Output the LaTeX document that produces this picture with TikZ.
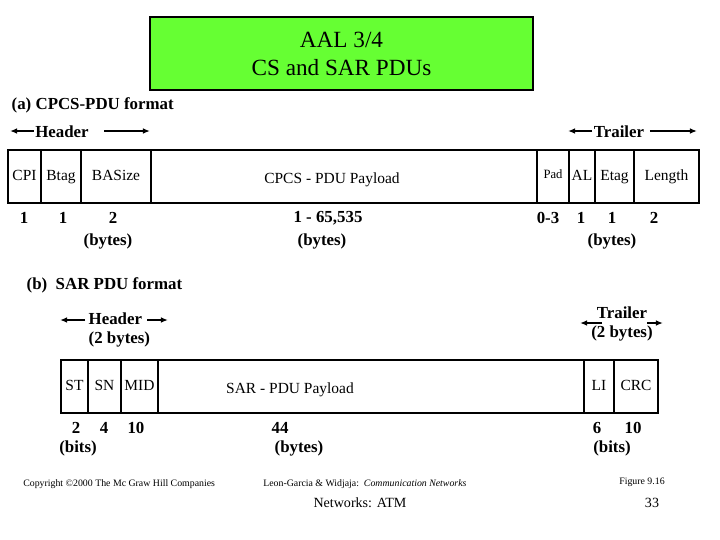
\documentclass[tikz,border=0pt]{standalone}
\usepackage{fontspec}
\setmainfont{Liberation Serif}
\usetikzlibrary{arrows.meta}
\definecolor{titlegreen}{RGB}{102,255,51}
\begin{document}
\begin{tikzpicture}[
    field/.style={
        draw, line width=2pt, outer sep=0pt, inner sep=0pt,
        minimum height=1.325cm, text height=7.5pt, text depth=2pt,
        font=\fontsize{11}{13}\selectfont
    },
    payload/.style={font=\fontsize{11}{13}\selectfont},
    lbl/.style={font=\fontsize{12}{14}\selectfont\bfseries, inner sep=1pt},
    harrow/.style={-{Latex[length=5pt,width=4pt]}, line width=1pt},
    foot/.style={font=\fontsize{7}{8}\selectfont, inner sep=0pt}
]
\useasboundingbox (0,0) rectangle (18,-13.5);

\node[draw, fill=titlegreen, line width=0.8pt, minimum width=9.575cm, minimum height=1.825cm,
      align=center, font=\fontsize{16.5}{20}\selectfont] (title) at (8.5375,-1.3375) {AAL 3/4\\CS and SAR PDUs};

% (a) CPCS-PDU format
\node[lbl, anchor=west] (capa) at (0.25,-2.625) {(a) CPCS-PDU format};

\node[lbl] (hdra) at (1.55,-3.3) {Header};
\coordinate (hdraL) at (0.25,-3.275);
\coordinate (hdraR) at (3.75,-3.275);
\draw[harrow] (hdra.west |- hdraL) -- (hdraL);
\draw[harrow] ([xshift=0.35cm]hdra.east |- hdraR) -- (hdraR);

\node[lbl] (trla) at (15.475,-3.3) {Trailer};
\coordinate (trlaL) at (14.2,-3.275);
\coordinate (trlaR) at (17.425,-3.275);
\draw[harrow] (trla.west |- trlaL) -- (trlaL);
\draw[harrow] ([xshift=0.1cm]trla.east |- trlaR) -- (trlaR);

\node[field, minimum width=0.825cm] (cpi)    at (0.6125,-4.4125)  {CPI};
\node[field, minimum width=1cm]     (btag)   at (1.525,-4.4125)   {Btag};
\node[field, minimum width=1.75cm]  (basize) at (2.9,-4.4125)     {BASize};
\node[field, minimum width=9.65cm,
      label={[payload, xshift=-0.3cm, yshift=-0.08cm]center:CPCS - PDU Payload}] (cpay) at (8.6,-4.4125) {};
\node[field, minimum width=0.8cm, font=\fontsize{9}{11}\selectfont, text depth=4pt] (pad) at (13.825,-4.4125) {Pad};
\node[field, minimum width=0.65cm]  (al)     at (14.55,-4.4125)   {AL};
\node[field, minimum width=0.975cm] (etag)   at (15.3625,-4.4125) {Etag};
\node[field, minimum width=1.625cm] (len)    at (16.6625,-4.4125) {Length};

\node[lbl] (ncpi)    at (0.6,-5.45)    {1};
\node[lbl] (nbtag)   at (1.575,-5.45)  {1};
\node[lbl] (nbasize) at (2.825,-5.45)  {2};
\node[lbl] (ua1)     at (2.7,-6.025)   {(bytes)};
\node[lbl] (ncpay)   at (8.2,-5.45)    {1 - 65,535};
\node[lbl] (ua2)     at (8.05,-6.025)  {(bytes)};
\node[lbl] (npad)    at (13.7,-5.45)   {0-3};
\node[lbl] (nal)     at (14.525,-5.45) {1};
\node[lbl] (netag)   at (15.3,-5.45)   {1};
\node[lbl] (nlen)    at (16.35,-5.45)  {2};
\node[lbl] (ua3)     at (15.3,-6.025)  {(bytes)};

% (b) SAR PDU format
\node[lbl, anchor=west] (capb) at (0.625,-7.125) {(b)\ \ SAR PDU format};

\node[lbl, align=left, anchor=west] (hdrb) at (2.175,-8.25) {Header\\(2 bytes)};
\coordinate (hdrbL) at (1.5,-8.0);
\coordinate (hdrbR) at (4.2,-8.0);
\draw[harrow] ([xshift=-0.05cm]hdrb.west |- hdrbL) -- (hdrbL);
\draw[harrow] (3.675,-8.0) -- (hdrbR);

\node[lbl, align=center] (trlb) at (15.55,-8.1) {Trailer\\(2 bytes)};
\coordinate (trlbL) at (14.5,-8.075);
\coordinate (trlbR) at (16.575,-8.075);
\draw[harrow] (15.05,-8.075) -- (trlbL);
\draw[harrow] (16.175,-8.075) -- (trlbR);

\node[field, minimum width=0.675cm] (st)  at (1.8625,-9.6625) {ST};
\node[field, minimum width=0.825cm] (sn)  at (2.6125,-9.6625) {SN};
\node[field, minimum width=0.925cm] (mid) at (3.4875,-9.6625) {MID};
\node[field, minimum width=10.65cm,
      label={[payload, xshift=-2.025cm, yshift=-0.08cm]center:SAR - PDU Payload}] (spay) at (9.275,-9.6625) {};
\node[field, minimum width=0.75cm]  (li)  at (14.975,-9.6625) {LI};
\node[field, minimum width=1.1cm]   (crc) at (15.9,-9.6625)   {CRC};

\node[lbl] (nst)   at (1.9,-10.7)    {2};
\node[lbl] (nsn)   at (2.6,-10.7)    {4};
\node[lbl] (nmid)  at (3.4,-10.7)    {10};
\node[lbl] (ub1)   at (1.95,-11.2)   {(bits)};
\node[lbl] (nspay) at (7.0,-10.7)    {44};
\node[lbl] (ub2)   at (7.475,-11.2)  {(bytes)};
\node[lbl] (nli)   at (14.925,-10.7) {6};
\node[lbl] (ncrc)  at (15.825,-10.7) {10};
\node[lbl] (ub3)   at (15.3,-11.2)   {(bits)};

% footer
\node[foot, anchor=west] (copy) at (0.575,-12.1) {Copyright \textcopyright2000 The Mc Graw Hill Companies};
\node[foot, anchor=west] (book) at (6.575,-12.1) {Leon-Garcia \& Widjaja:\ \ \textit{Communication Networks}};
\node[foot] (fig) at (16.05,-12.05) {Figure 9.16};
\node[font=\fontsize{10}{12}\selectfont, inner sep=0pt] (topic) at (9.0,-12.575) {Networks: ATM};
\node[font=\fontsize{10}{12}\selectfont, inner sep=0pt] (page) at (16.3,-12.575) {33};
\end{tikzpicture}
\end{document}
